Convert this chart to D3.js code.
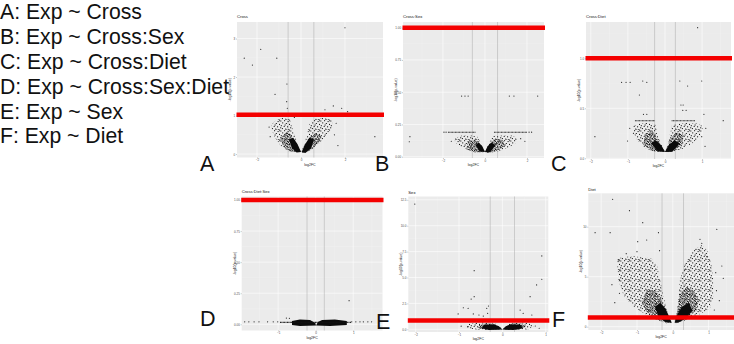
<!DOCTYPE html>
<html>
<head>
<meta charset="utf-8">
<script src="https://cdn.jsdelivr.net/npm/d3@7"></script>
<style>
  body { margin: 0; background: #fff; }
  svg { display: block; }
</style>
</head>
<body>
<div id="chart"></div>
<script>
// ---- data ----
const legendLines = ["A: Exp ~ Cross", "B: Exp ~ Cross:Sex", "C: Exp ~ Cross:Diet",
  "D: Exp ~ Cross:Sex:Diet", "E: Exp ~ Sex", "F: Exp ~ Diet"];
const panelLetters = ["A", "B", "C", "D", "E", "F"];
const panelTitles = ["Cross", "Cross:Sex", "Cross:Diet", "Cross:Diet:Sex", "Sex", "Diet"];
const xLabel = "log2FC";
const yLabel = "-log10(p.value)";

// A: Cross
const xDomainA = [-2.91, 3.73], yDomainA = [-0.09, 3.43];
const xTicksA = [-2, 0, 2], yTicksA = [0, 1, 2, 3];
const foldA = 0.585, cutoffA = 1.02;
const pointsA = [[2.0, 3.28], [-1.83, 2.72], [-2.58, 2.49], [-1.10, 2.49], [-2.21, 2.31], [-0.64, 1.82],
  [-1.18, 1.55], [-0.65, 1.36], [-0.62, 1.19], [1.09, 1.15], [1.47, 1.25], [1.85, 1.19], [2.12, 1.10],
  [3.36, 0.45], [1.68, 0.22], [-1.45, 0.7], [1.6, 0.8], [-1.4, 0.45], [1.52, 0.5], [-0.3, 0.95]];
const wingsA = [
  [[-1.33, 0.78], [-1.14, 0.88], [-0.82, 0.94], [-0.50, 0.90], [-0.41, 0.70], [-0.27, 0.44], [-0.09, 0.18],
   [0, 0.05], [-0.23, 0.04], [-0.59, 0.08], [-0.91, 0.21], [-1.18, 0.42], [-1.33, 0.62]],
  [[0, 0.05], [0.14, 0.23], [0.27, 0.52], [0.41, 0.81], [0.68, 0.92], [1.05, 0.95], [1.41, 0.88], [1.43, 0.70],
   [1.14, 0.47], [0.77, 0.23], [0.36, 0.08], [0.05, 0.03]]];
const coresA = [
  [[-0.95, 0.41], [-0.65, 0.58], [-0.42, 0.49], [-0.20, 0.23], [0, 0.05], [-0.42, 0.05], [-0.80, 0.19]],
  [[0.05, 0.05], [0.18, 0.19], [0.41, 0.45], [0.64, 0.54], [0.94, 0.48], [0.79, 0.28], [0.41, 0.10], [0.06, 0.03]]];
const tipsA = [
  [[0, 0.05], [-0.15, 0.25], [-0.35, 0.42], [-0.55, 0.38], [-0.4, 0.15], [-0.2, 0.04]],
  [[0.03, 0.05], [0.18, 0.25], [0.38, 0.42], [0.6, 0.38], [0.45, 0.15], [0.2, 0.03]]];
const bandsA = [];

// B: Cross:Sex
const xDomainB = [-3.90, 2.81], yDomainB = [-0.01, 1.044];
const xTicksB = [-2, 0, 2], yTicksB = [0, 0.25, 0.5, 0.75, 1];
const foldB = 0.6, cutoffB = 1.0;
const pointsB = [[-1.11, 0.47], [-0.95, 0.47], [-0.80, 0.47], [1.16, 0.47], [1.38, 0.47], [2.51, 0.47],
  [-3.57, 0.155], [-3.60, 0.116], [-1.95, 0.19], [-1.85, 0.19], [2.1, 0.19], [2.22, 0.19], [1.9, 0.12],
  [-1.6, 0.12], [1.7, 0.14]];
const wingsB = [
  [[-1.43, 0.145], [-1.10, 0.164], [-0.62, 0.164], [-0.33, 0.153], [-0.19, 0.098], [-0.05, 0.052], [0, 0.036],
   [-0.33, 0.033], [-0.81, 0.052], [-1.19, 0.083], [-1.43, 0.114]],
  [[0, 0.036], [0.10, 0.067], [0.24, 0.121], [0.38, 0.16], [0.81, 0.164], [1.29, 0.164], [1.52, 0.145],
   [1.48, 0.106], [1.10, 0.067], [0.52, 0.036], [0.14, 0.029]]];
const coresB = [
  [[-0.81, 0.114], [-0.43, 0.137], [-0.24, 0.098], [0, 0.036], [-0.48, 0.033], [-0.90, 0.06]],
  [[0, 0.036], [0.19, 0.091], [0.43, 0.137], [0.86, 0.129], [0.95, 0.083], [0.48, 0.04], [0.10, 0.029]]];
const tipsB = [
  [[0, 0.036], [-0.12, 0.08], [-0.3, 0.11], [-0.45, 0.09], [-0.25, 0.04]],
  [[0, 0.036], [0.12, 0.08], [0.3, 0.11], [0.5, 0.09], [0.25, 0.035]]];
const bandsB = [[-1.76, -0.43, 0.189], [0.43, 2.0, 0.189]];

// C: Cross:Diet
const xDomainC = [-2.13, 1.78], yDomainC = [-0.007, 1.363];
const xTicksC = [-2, -1, 0, 1], yTicksC = [0, 0.5, 1];
const foldC = 0.28, cutoffC = 1.0;
const pointsC = [[0.88, 1.306], [-1.17, 0.76], [-1.05, 0.76], [-0.94, 0.76], [-0.60, 0.773], [-0.49, 0.76],
  [-0.69, 0.633], [0.40, 0.773], [0.61, 0.723], [0.99, 0.773], [0.43, 0.533], [0.49, 0.533], [0.48, 0.48],
  [0.57, 0.48], [1.05, 0.44], [-0.58, 0.44], [-0.49, 0.44], [1.57, 0.376], [-1.89, 0.216], [-1.01, 0.173],
  [0.99, 0.216], [-0.85, 0.25], [1.1, 0.3], [-0.95, 0.3], [1.08, 0.12]];
const wingsC = [
  [[-0.86, 0.323], [-0.67, 0.353], [-0.40, 0.353], [-0.24, 0.333], [-0.22, 0.253], [-0.13, 0.163], [-0.03, 0.083],
   [0, 0.063], [-0.27, 0.063], [-0.54, 0.103], [-0.75, 0.183], [-0.86, 0.263]],
  [[0, 0.063], [0.08, 0.133], [0.13, 0.233], [0.19, 0.333], [0.46, 0.353], [0.81, 0.353], [1.02, 0.323],
   [0.99, 0.243], [0.75, 0.153], [0.46, 0.093], [0.13, 0.058]]];
const coresC = [
  [[-0.54, 0.233], [-0.35, 0.283], [-0.22, 0.203], [0, 0.063], [-0.35, 0.073], [-0.59, 0.133]],
  [[0, 0.063], [0.13, 0.183], [0.30, 0.263], [0.51, 0.233], [0.46, 0.133], [0.19, 0.068]]];
const tipsC = [
  [[0, 0.063], [-0.1, 0.13], [-0.25, 0.18], [-0.38, 0.15], [-0.2, 0.07]],
  [[0, 0.063], [0.1, 0.13], [0.25, 0.18], [0.4, 0.15], [0.2, 0.065]]];
const bandsC = [[-0.81, -0.27, 0.376], [0.18, 0.81, 0.376]];

// D: Cross:Diet:Sex
const xDomainD = [-1.97, 1.78], yDomainD = [-0.05, 1.028];
const xTicksD = [-1, 0, 1], yTicksD = [0, 0.25, 0.5, 0.75, 1];
const foldD = 0.23, cutoffD = 1.0;
const pointsD = [[0.89, 0.19], [-1.89, 0.02], [-1.78, 0.02], [-1.64, 0.02], [-1.51, 0.02], [-1.28, 0.02],
  [-1.13, 0.02], [-1.01, 0.02], [0.96, 0.02], [1.07, 0.02], [1.18, 0.02], [1.27, 0.02], [1.39, 0.02],
  [1.49, 0.02], [-0.78, 0.05], [-0.70, 0.048]];
const wingsD = [];
const coresD = [];
const tipsD = [
  [[-0.63, 0.027], [-0.42, 0.039], [-0.15, 0.035], [-0.01, 0.010], [0.01, -0.010], [-0.42, -0.014], [-0.63, -0.006]],
  [[0.01, -0.010], [0.06, 0.019], [0.17, 0.035], [0.51, 0.039], [0.83, 0.027], [0.83, -0.006], [0.38, -0.014]]];
const bandsD = [[-0.95, 0.95, 0.015]];

// E: Sex
const xDomainE = [-2.17, 1.06], yDomainE = [-0.26, 12.82];
const xTicksE = [-2, -1, 0, 1], yTicksE = [0, 2.5, 5, 7.5, 10, 12.5];
const foldE = 0.28, cutoffE = 0.85;
const pointsE = [[-2.02, 12.09], [0.91, 7.08], [-0.65, 5.66], [0.91, 4.83], [0.79, 4.28], [0.64, 3.15],
  [-0.65, 3.15], [-0.72, 2.92], [-0.90, 2.08], [-0.79, 2.03], [-0.32, 2.25], [-0.36, 2.03], [-1.02, 1.48],
  [-0.67, 1.48], [-0.54, 1.38], [-0.44, 1.28], [-0.34, 1.54], [0.41, 1.86], [0.48, 1.54], [0.68, 1.38],
  [-0.79, 0.25], [0.76, 0.32], [-0.95, 0.3], [0.85, 0.1]];
const wingsE = [
  [[-0.82, 0.51], [-0.63, 0.66], [-0.33, 0.70], [-0.17, 0.61], [-0.05, 0.22], [0, -0.02], [-0.28, -0.07],
   [-0.63, -0.02], [-0.82, 0.13]],
  [[0, -0.02], [0.06, 0.22], [0.18, 0.61], [0.36, 0.70], [0.64, 0.61], [0.73, 0.32], [0.59, -0.02], [0.22, -0.07]]];
const coresE = [
  [[-0.52, 0.51], [-0.24, 0.56], [-0.10, 0.32], [0, -0.02], [-0.40, -0.07], [-0.56, 0.13]],
  [[0, -0.02], [0.11, 0.32], [0.22, 0.56], [0.45, 0.56], [0.55, 0.22], [0.29, -0.07]]];
const tipsE = [
  [[0, -0.02], [-0.08, 0.3], [-0.2, 0.5], [-0.42, 0.45], [-0.48, 0.1], [-0.3, -0.07]],
  [[0, -0.02], [0.08, 0.3], [0.2, 0.5], [0.42, 0.45], [0.48, 0.1], [0.25, -0.07]]];
const bandsE = [];

// F: Diet
const xDomainF = [-2.36, 1.71], yDomainF = [-0.33, 13.34];
const xTicksF = [-2, -1, 0, 1], yTicksF = [0, 5, 10];
const foldF = 0.3, cutoffF = 0.92;
const pointsF = [[-1.68, 12.74], [-1.21, 11.6], [-0.84, 10.4], [-2.17, 9.4], [-1.75, 9.4], [-0.40, 9.4],
  [1.23, 9.74], [-0.98, 8.5], [-0.73, 8.67], [0.76, 8.74], [0.81, 8.34], [-0.37, 7.6], [1.37, 6.07],
  [1.41, 4.84], [-1.52, 6.67], [-1.47, 5.67], [-1.49, 4.67], [-1.49, 3.34], [1.16, 1.67], [0.34, 5.74],
  [-1.3, 7.3], [-1.0, 7.5], [0.95, 7.0], [1.2, 5.4], [-1.7, 4.2], [1.3, 2.6], [-1.62, 2.4], [1.22, 3.6]];
const wingsF = [
  [[-1.56, 6.84], [-1.15, 7.07], [-0.87, 6.94], [-0.59, 6.84], [-0.43, 6.0], [-0.35, 4.67], [-0.26, 3.0],
   [-0.12, 1.17], [-0.03, 0.4], [-0.17, 0.34], [-0.45, 0.67], [-0.82, 1.34], [-1.15, 2.17], [-1.38, 3.17],
   [-1.52, 4.67]],
  [[0.20, 4.67], [0.34, 6.34], [0.58, 7.67], [0.81, 8.17], [0.99, 7.5], [1.09, 6.0], [1.13, 4.67], [1.13, 3.0],
   [1.04, 1.84], [0.81, 1.34], [0.48, 0.84], [0.20, 0.4], [0.04, 0.34], [0.11, 1.34], [0.16, 3.0]]];
const coresF = [
  [[-0.73, 3.67], [-0.49, 3.67], [-0.35, 3.0], [-0.22, 1.67], [-0.08, 0.67], [-0.03, 0.4], [-0.22, 0.4],
   [-0.49, 0.84], [-0.73, 1.5], [-0.87, 2.34]],
  [[0.20, 3.34], [0.39, 4.0], [0.58, 3.67], [0.72, 2.67], [0.67, 1.67], [0.44, 1.0], [0.20, 0.5], [0.06, 0.4],
   [0.11, 1.34], [0.16, 2.34]]];
const tipsF = [
  [[-0.03, 0.4], [-0.1, 1.0], [-0.2, 1.8], [-0.35, 2.4], [-0.5, 2.0], [-0.4, 1.0], [-0.2, 0.45]],
  [[0.05, 0.4], [0.12, 1.2], [0.25, 2.0], [0.45, 2.4], [0.55, 1.6], [0.35, 0.8], [0.15, 0.4]]];
const bandsF = [];

// ---- layout (pixel boxes of the pasted plots) ----
const layout = [
  {left: 237,   right: 383,   top: 22,    bottom: 157.5, titleY: 18,    letterX: 200, letterY: 171, fmt: "d"},
  {left: 403,   right: 544,   top: 22,    bottom: 158,   titleY: 18,    letterX: 375, letterY: 171, fmt: ".2f"},
  {left: 586,   right: 731,   top: 22,    bottom: 159,   titleY: 18,    letterX: 551, letterY: 171, fmt: ".1f"},
  {left: 241.7, right: 382.5, top: 196.5, bottom: 330.5, titleY: 192.5, letterX: 200, letterY: 326, fmt: ".2f"},
  {left: 408.3, right: 548.3, top: 196.5, bottom: 332,   titleY: 193.5, letterX: 376, letterY: 329, fmt: ".1f"},
  {left: 588.3, right: 734,   top: 193.3, bottom: 330,   titleY: 190.5, letterX: 552, letterY: 327, fmt: "d"}
];

const panels = [
  {xDomain: xDomainA, yDomain: yDomainA, xTicks: xTicksA, yTicks: yTicksA, fold: foldA, cutoff: cutoffA,
   points: pointsA, wings: wingsA, cores: coresA, tips: tipsA, bands: bandsA},
  {xDomain: xDomainB, yDomain: yDomainB, xTicks: xTicksB, yTicks: yTicksB, fold: foldB, cutoff: cutoffB,
   points: pointsB, wings: wingsB, cores: coresB, tips: tipsB, bands: bandsB},
  {xDomain: xDomainC, yDomain: yDomainC, xTicks: xTicksC, yTicks: yTicksC, fold: foldC, cutoff: cutoffC,
   points: pointsC, wings: wingsC, cores: coresC, tips: tipsC, bands: bandsC},
  {xDomain: xDomainD, yDomain: yDomainD, xTicks: xTicksD, yTicks: yTicksD, fold: foldD, cutoff: cutoffD,
   points: pointsD, wings: wingsD, cores: coresD, tips: tipsD, bands: bandsD},
  {xDomain: xDomainE, yDomain: yDomainE, xTicks: xTicksE, yTicks: yTicksE, fold: foldE, cutoff: cutoffE,
   points: pointsE, wings: wingsE, cores: coresE, tips: tipsE, bands: bandsE},
  {xDomain: xDomainF, yDomain: yDomainF, xTicks: xTicksF, yTicks: yTicksF, fold: foldF, cutoff: cutoffF,
   points: pointsF, wings: wingsF, cores: coresF, tips: tipsF, bands: bandsF}
];

const svg = d3.select("#chart").append("svg")
  .attr("width", 734)
  .attr("height", 344);

const defs = svg.append("defs");

// speckle fills stand in for the thousands of overplotted genes
function speckle(id, size, dots, bg) {
  const pat = defs.append("pattern").attr("id", id)
    .attr("patternUnits", "userSpaceOnUse").attr("width", size).attr("height", size);
  if (bg) pat.append("rect").attr("width", size).attr("height", size).attr("fill", bg);
  dots.forEach(function(d) {
    pat.append("rect").attr("x", d[0]).attr("y", d[1]).attr("width", 1).attr("height", 1).attr("fill", "#000");
  });
}
speckle("sparse", 10, [[0.3, 0.5], [4.1, 0.2], [7.6, 1.1], [9.3, 0.2], [2.2, 2.4], [5.8, 3.0], [9.0, 3.9],
  [4.6, 4.5], [0.8, 5.2], [3.7, 5.9], [7.1, 6.3], [0.2, 7.3], [1.9, 8.1], [5.2, 8.6], [8.4, 9.0], [6.3, 9.5]]);
speckle("medium", 8, [[0.2, 0.3], [2.5, 0.1], [4.9, 0.6], [6.8, 0.2], [1.3, 1.6], [3.6, 1.9], [5.9, 1.7],
  [7.4, 2.3], [0.4, 3.1], [2.4, 3.4], [4.5, 3.0], [6.5, 3.6], [1.5, 4.7], [3.4, 4.9], [5.4, 4.5], [7.2, 5.0],
  [0.1, 5.9], [2.3, 6.2], [4.3, 6.0], [6.2, 6.6], [1.2, 7.3], [3.5, 7.4], [5.3, 7.6], [7.5, 7.0]]);
speckle("solid", 3, [], "#0b0b0b");

// legend text
svg.append("g").selectAll("text").data(legendLines).enter().append("text")
  .attr("x", 0)
  .attr("y", function(d, i) { return 19.2 + i * 24.85; })
  .attr("font-family", "Liberation Sans, Arial, sans-serif")
  .attr("font-size", 21.2)
  .attr("fill", "#111")
  .text(function(d) { return d; });

panels.forEach(function(p, i) {
  const L = layout[i];
  const x = d3.scaleLinear().domain(p.xDomain).range([L.left, L.right]);
  const y = d3.scaleLinear().domain(p.yDomain).range([L.bottom, L.top]);
  const g = svg.append("g");

  g.append("clipPath").attr("id", "clip" + i).append("rect")
    .attr("x", L.left).attr("y", L.top).attr("width", L.right - L.left).attr("height", L.bottom - L.top);

  g.append("rect")
    .attr("x", L.left).attr("y", L.top)
    .attr("width", L.right - L.left).attr("height", L.bottom - L.top)
    .attr("fill", "#ebebeb");

  // grid: minor halfway between majors
  const xStep = p.xTicks[1] - p.xTicks[0];
  const yStep = p.yTicks[1] - p.yTicks[0];
  const xMinor = d3.range(p.xTicks[0] - xStep / 2, p.xDomain[1], xStep).filter(v => v > p.xDomain[0]);
  const yMinor = d3.range(p.yTicks[0] - yStep / 2, p.yDomain[1], yStep).filter(v => v > p.yDomain[0]);

  g.selectAll("line.xminor").data(xMinor).enter().append("line").attr("class", "xminor")
    .attr("x1", d => x(d)).attr("x2", d => x(d)).attr("y1", L.top).attr("y2", L.bottom)
    .attr("stroke", "#f4f4f4").attr("stroke-width", 0.3);
  g.selectAll("line.yminor").data(yMinor).enter().append("line").attr("class", "yminor")
    .attr("y1", d => y(d)).attr("y2", d => y(d)).attr("x1", L.left).attr("x2", L.right)
    .attr("stroke", "#f4f4f4").attr("stroke-width", 0.3);
  g.selectAll("line.xmajor").data(p.xTicks).enter().append("line").attr("class", "xmajor")
    .attr("x1", d => x(d)).attr("x2", d => x(d)).attr("y1", L.top).attr("y2", L.bottom)
    .attr("stroke", "#fff").attr("stroke-width", 0.6);
  g.selectAll("line.ymajor").data(p.yTicks).enter().append("line").attr("class", "ymajor")
    .attr("y1", d => y(d)).attr("y2", d => y(d)).attr("x1", L.left).attr("x2", L.right)
    .attr("stroke", "#fff").attr("stroke-width", 0.6);

  // fold-change thresholds
  g.selectAll("line.fold").data([-p.fold, p.fold]).enter().append("line").attr("class", "fold")
    .attr("x1", d => x(d)).attr("x2", d => x(d)).attr("y1", L.top).attr("y2", L.bottom)
    .attr("stroke", "#a9a9a9").attr("stroke-width", 0.5);

  const plot = g.append("g").attr("clip-path", "url(#clip" + i + ")");
  const outline = d3.line().x(d => x(d[0])).y(d => y(d[1])).curve(d3.curveLinearClosed);

  plot.selectAll("path.wing").data(p.wings).enter().append("path").attr("class", "wing")
    .attr("d", outline).attr("fill", "url(#sparse)");
  plot.selectAll("path.core").data(p.cores).enter().append("path").attr("class", "core")
    .attr("d", outline).attr("fill", "url(#medium)");
  plot.selectAll("path.tip").data(p.tips).enter().append("path").attr("class", "tip")
    .attr("d", outline).attr("fill", "url(#solid)");

  plot.selectAll("line.band").data(p.bands).enter().append("line").attr("class", "band")
    .attr("x1", d => x(d[0])).attr("x2", d => x(d[1]))
    .attr("y1", d => y(d[2])).attr("y2", d => y(d[2]))
    .attr("stroke", "#111").attr("stroke-width", 1.1).attr("stroke-dasharray", "0.9 0.5");

  plot.selectAll("circle").data(p.points).enter().append("circle")
    .attr("cx", d => x(d[0])).attr("cy", d => y(d[1])).attr("r", 0.6)
    .attr("fill", "#222");

  // axes
  const gx = g.append("g").attr("transform", "translate(0," + L.bottom + ")")
    .call(d3.axisBottom(x).tickValues(p.xTicks).tickSize(1).tickPadding(0.8).tickFormat(d3.format("d")));
  const gy = g.append("g").attr("transform", "translate(" + L.left + ",0)")
    .call(d3.axisLeft(y).tickValues(p.yTicks).tickSize(1).tickPadding(0.8).tickFormat(d3.format(L.fmt)));
  [gx, gy].forEach(function(ax) {
    ax.select(".domain").remove();
    ax.selectAll("line").attr("stroke", "#444").attr("stroke-width", 0.3);
    ax.selectAll("text").attr("font-size", 3).attr("fill", "#4d4d4d")
      .attr("font-family", "Liberation Sans, Arial, sans-serif");
  });

  g.append("text")
    .attr("x", (L.left + L.right) / 2).attr("y", L.bottom + 8)
    .attr("text-anchor", "middle").attr("font-size", 3.5).attr("fill", "#222")
    .attr("font-family", "Liberation Sans, Arial, sans-serif")
    .text(xLabel);
  g.append("text")
    .attr("transform", "translate(" + (L.left - 6) + "," + ((L.top + L.bottom) / 2) + ") rotate(-90)")
    .attr("text-anchor", "middle").attr("font-size", 3.5).attr("fill", "#222")
    .attr("font-family", "Liberation Sans, Arial, sans-serif")
    .text(yLabel);
  g.append("text")
    .attr("x", L.left).attr("y", L.titleY)
    .attr("font-size", 4.2).attr("fill", "#111")
    .attr("font-family", "Liberation Sans, Arial, sans-serif")
    .text(panelTitles[i]);

  // significance cut-off drawn over the plot
  g.append("line")
    .attr("x1", x(p.xDomain[0]) - 0.5).attr("x2", x(p.xDomain[1]) + 1)
    .attr("y1", y(p.cutoff)).attr("y2", y(p.cutoff))
    .attr("stroke", "#f40000").attr("stroke-width", 4.5);

  svg.append("text")
    .attr("x", L.letterX).attr("y", L.letterY)
    .attr("font-family", "Liberation Sans, Arial, sans-serif")
    .attr("font-size", 21.5)
    .attr("fill", "#111")
    .text(panelLetters[i]);
});
</script>
</body>
</html>
